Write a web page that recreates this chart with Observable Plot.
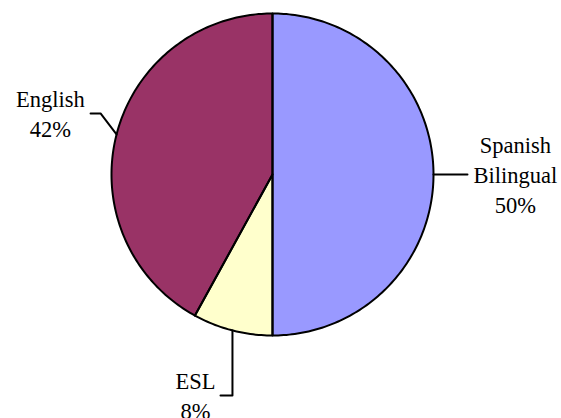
<!DOCTYPE html>
<html>
<head>
<meta charset="utf-8">
<script src="https://cdn.jsdelivr.net/npm/d3@7"></script>
<script src="https://cdn.jsdelivr.net/npm/@observablehq/plot@0.6"></script>
<style>
  html, body { margin: 0; padding: 0; background: #fff; }
  #chart svg { display: block; }
  #chart svg text { font-family: "Liberation Serif", "Times New Roman", serif !important; }
</style>
</head>
<body>
<div id="chart"></div>
<script>
// Data (clockwise from 12 o'clock)
const categories = ["Spanish Bilingual", "ESL", "English"];
const values = [50, 8, 42];
const labels = ["Spanish\nBilingual\n50%", "ESL\n8%", "English\n42%"];
const colors = ["#9999FF", "#FFFFCC", "#993366"];

// Angles from d3.pie (no sorting, starts at 12 o'clock, clockwise)
const arcs = d3.pie().sort(null).value(d => d)(values);

// Slice polygons in unit-circle coordinates (y up)
function slicePoints(a0, a1, name) {
  const pts = [{x: 0, y: 0, cat: name}];
  const steps = Math.max(8, Math.ceil((a1 - a0) / (Math.PI / 180)));
  for (let i = 0; i <= steps; i++) {
    const a = a0 + (a1 - a0) * i / steps;
    pts.push({x: Math.sin(a), y: Math.cos(a), cat: name});
  }
  pts.push({x: 0, y: 0, cat: name});
  return pts;
}
const slices = arcs.map((a, i) => slicePoints(a.startAngle, a.endAngle, categories[i]));

// Leader lines: start at slice mid-angle on the rim, then offsets
const mid = arcs.map(a => (a.startAngle + a.endAngle) / 2);
const rim = mid.map(a => ({x: Math.sin(a), y: Math.cos(a)}));
const leaders = [
  [rim[0], {x: 1.211, y: rim[0].y}],
  [rim[1], {x: rim[1].x, y: -1.373}, {x: -0.323, y: -1.373}],
  [rim[2], {x: -1.068, y: 0.379}, {x: -1.130, y: 0.379}]
].map((pts, i) => pts.map(p => ({...p, cat: categories[i]})));

const labelPos = [
  {x: 1.509, y: -0.242},
  {x: -0.478, y: -1.516},
  {x: -1.379, y: 0.230}
];
const labelData = labels.map((t, i) => ({text: t, ...labelPos[i]}));

const marks = [];
slices.forEach((pts, i) => {
  marks.push(Plot.line(pts, {x: "x", y: "y", fill: colors[i], stroke: "none", curve: "linear"}));
});
slices.forEach((pts, i) => {
  marks.push(Plot.line(pts, {x: "x", y: "y", stroke: "#000", strokeWidth: 2, strokeLinejoin: "round", curve: "linear"}));
});
leaders.forEach(pts => {
  marks.push(Plot.line(pts, {x: "x", y: "y", stroke: "#000", strokeWidth: 2, curve: "linear"}));
});
marks.push(Plot.text(labelData, {
  x: "x", y: "y", text: "text",
  textAnchor: "middle", lineAnchor: "bottom", lineHeight: 1.333,
  fontFamily: "Liberation Serif", fontSize: 22.5, fill: "#000"
}));

const chart = Plot.plot({
  width: 561,
  height: 418,
  margin: 0,
  x: {domain: [-1, 1], range: [111, 433], axis: null},
  y: {domain: [-1, 1], range: [335, 13], axis: null},
  style: {background: "#fff", overflow: "visible", fontFamily: "Liberation Serif"},
  marks
});
document.getElementById("chart").appendChild(chart);
</script>
</body>
</html>
